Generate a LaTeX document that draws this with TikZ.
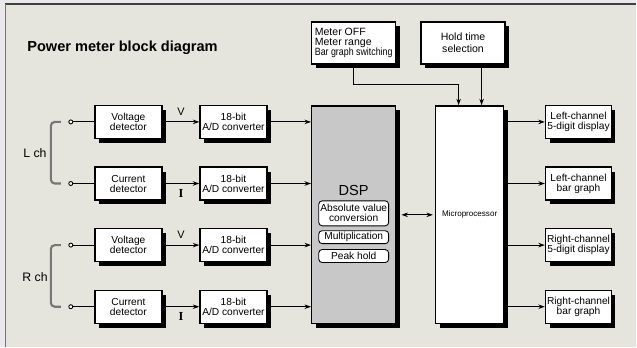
\documentclass[tikz,border=0pt]{standalone}
\usepackage{fontspec}
\setmainfont{Liberation Sans}
\newfontfamily\serifI{Liberation Serif}
\usepackage{graphicx}
\usepackage{xcolor}
\usetikzlibrary{arrows.meta, positioning, shadows}

\definecolor{pagebg}{RGB}{233,233,236}
\definecolor{panelbg}{RGB}{229,228,221}
\definecolor{dspgray}{RGB}{200,200,200}
\definecolor{brgray}{RGB}{118,118,118}

\begin{document}
\begin{tikzpicture}[x=0.2mm, y=-0.2mm, node distance=5.45mm and 7.35mm,
  >={Stealth[length=1.3mm, width=0.9mm]},
  every node/.style={inner sep=0pt},
  blk/.style={draw, line width=0.8pt, fill=white,
    minimum width=13.4mm, minimum height=6.6mm, align=center,
    font=\fontsize{5.8}{5.7}\selectfont,
    drop shadow={shadow xshift=0.8mm, shadow yshift=-0.9mm, fill=black, opacity=1}},
  inblk/.style={draw, line width=0.5pt, fill=white, rounded corners=0.7mm,
    minimum width=14mm, minimum height=2.6mm, align=center,
    font=\fontsize{5.8}{5.7}\selectfont},
  term/.style={circle, draw, line width=0.5pt, fill=white, minimum size=0.8mm},
  wire/.style={line width=0.6pt},
  lbl/.style={font=\fontsize{6.2}{7}\selectfont}]

  % panel
  \fill[pagebg] (0,0) rectangle (637,347);
  \fill[panelbg] (5,4) rectangle (637,347);
  \draw[line width=0.6pt, black!75] (5,4) -- (637,4);
  \draw[line width=1.1pt, brgray] (5.5,4) -- (5.5,347);
  \useasboundingbox (0,0) rectangle (637,347);

  \node[anchor=west, font=\bfseries\fontsize{8.3}{10}\selectfont] (title) at (27,48)
    {Power meter block diagram};

  % input rows
  \node[blk] (vdetL) at (128.5,122) {Voltage\\detector};
  \node[blk, right=of vdetL] (adcL1) {18-bit\\A/D converter};
  \node[blk, below=of vdetL] (cdetL) {Current\\detector};
  \node[blk, right=of cdetL] (adcL2) {18-bit\\A/D converter};
  \node[blk, below=of cdetL] (vdetR) {Voltage\\detector};
  \node[blk, right=of vdetR] (adcR1) {18-bit\\A/D converter};
  \node[blk, below=of vdetR] (cdetR) {Current\\detector};
  \node[blk, right=of cdetR] (adcR2) {18-bit\\A/D converter};

  \node[term, left=4.2mm of vdetL] (tLv) {};
  \node[term, left=4.2mm of cdetL] (tLi) {};
  \node[term, left=4.2mm of vdetR] (tRv) {};
  \node[term, left=4.2mm of cdetR] (tRi) {};

  \draw[brgray, line width=1.2pt, rounded corners=0.8mm]
    ([xshift=-2mm]tLv.center) -- ([xshift=-4mm]tLv.center)
    -- ([xshift=-4mm]tLi.center) -- ([xshift=-2mm]tLi.center);
  \draw[brgray, line width=1.2pt, rounded corners=0.8mm]
    ([xshift=-2mm]tRv.center) -- ([xshift=-4mm]tRv.center)
    -- ([xshift=-4mm]tRi.center) -- ([xshift=-2mm]tRi.center);
  \node[font=\fontsize{7}{8}\selectfont] (lch) at (35,153) {L ch};
  \node[font=\fontsize{7}{8}\selectfont] (rch) at (35,277) {R ch};

  % DSP and microprocessor
  \node[blk, fill=dspgray, minimum width=16.8mm, minimum height=43.6mm] (dsp) at (354,215) {};
  \node[font=\fontsize{8.3}{10}\selectfont] (dsplbl) at (354,191) {DSP};
  \node[inblk, minimum height=5mm] (absval) at (354,213.5) {Absolute value\\conversion};
  \node[inblk, below=0.8mm of absval] (mult) {Multiplication};
  \node[inblk, below=1mm of mult] (peak) {Peak hold};

  \node[blk, minimum width=13.6mm, minimum height=43.6mm,
    font=\fontsize{4.6}{5}\selectfont] (micro) at (470,215) {Microprocessor};

  % control boxes
  \node[blk, minimum width=16.8mm, minimum height=8.4mm, align=left,
    font=\fontsize{6}{5.7}\selectfont] (mtr) at (354,43)
    {Meter OFF\\Meter range\\\scalebox{0.84}[1]{Bar graph switching}};
  \node[blk, minimum width=16.8mm, minimum height=8.4mm,
    font=\fontsize{6}{6.8}\selectfont, right=4.8mm of mtr] (hold) {Hold time\\selection};

  % outputs
  \node[blk, minimum width=13.2mm] (outL5) at (579,122) {Left-channel\\5-digit display};
  \node[blk, minimum width=13.2mm, below=of outL5] (outLb) {Left-channel\\bar graph};
  \node[blk, minimum width=13.2mm, below=of outLb] (outR5) {Right-channel\\5-digit display};
  \node[blk, minimum width=13.2mm, below=of outR5] (outRb) {Right-channel\\bar graph};

  % connectors
  \foreach \a/\b in {tLv/vdetL,tLi/cdetL,tRv/vdetR,tRi/cdetR}
    \draw[wire] (\a) -- (\b);
  \foreach \a/\b in {vdetL/adcL1,vdetR/adcR1}
    \draw[wire,->] (\a) -- node[lbl, above=1.2mm] {V} (\b);
  \foreach \a/\b in {cdetL/adcL2,cdetR/adcR2}
    \draw[wire,->] (\a) -- node[below=1.1mm, font=\serifI\bfseries\fontsize{7}{8}\selectfont] {I} (\b);
  \foreach \a in {adcL1,adcL2,adcR1,adcR2}
    \draw[wire,->] (\a.east) -- (\a.east -| dsp.west);
  \foreach \b in {outL5,outLb,outR5,outRb}
    \draw[wire,->] (\b.west -| micro.east) -- (\b.west);
  \draw[wire,<->, shorten <=1mm, shorten >=0.4mm] (dsp.east) -- (micro.west);

  \coordinate (mtrin) at ([xshift=-2.2mm]micro.north);
  \coordinate (holdin) at ([xshift=2.4mm]micro.north);
  \draw[wire,->] (mtr.south) -- ++(0,20) -| (mtrin);
  \draw[wire,->] (hold.south -| holdin) -- (holdin);
\end{tikzpicture}
\end{document}
